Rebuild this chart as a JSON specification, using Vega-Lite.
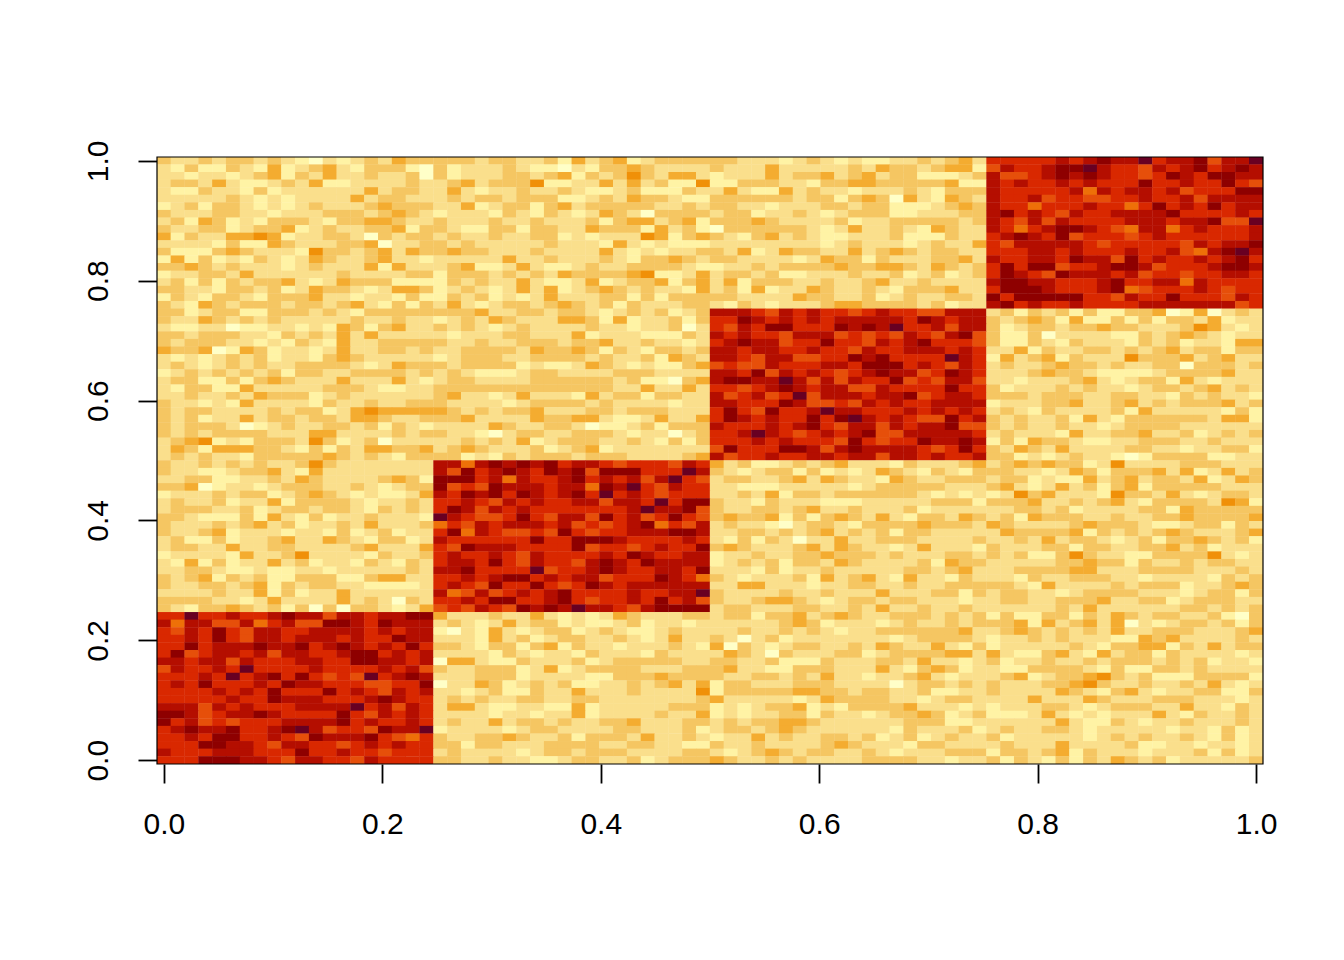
{"$schema":"https://vega.github.io/schema/vega-lite/v6.json","width":1106,"height":607,"autosize":"none","padding":{"left":157,"top":157,"right":81,"bottom":196},"background":"white","config":{"view":{"stroke":null},"axis":{"grid":false,"title":null,"domainColor":"black","domainWidth":1.5,"tickColor":"black","tickWidth":1.8,"tickSize":19,"labelColor":"black","labelFont":"Liberation Sans","labelFontSize":30}},
"layer":[{"data":{"values":[
{"y":79,"v":[4,3,3,4,3,4,4,3,4,3,2,1,3,2,3,4,3,5,4,4, 4,4,4,3,4,4,3,3,4,2,5,3,4,5,2,3,4,4,4,4, 4,4,3,3,3,2,3,4,3,2,3,2,2,3,3,4,3,4,5,3, 9,9,9,9,9,10,9,10,11,10,10,12,9,10,10,11,8,10,10,12]},
{"y":78,"v":[3,2,4,2,2,4,3,2,5,2,3,4,5,3,2,4,4,4,2,1, 4,2,3,3,3,4,3,2,2,1,3,2,4,4,5,4,3,3,3,3, 4,3,3,3,5,3,3,3,3,3,4,3,5,4,4,3,4,5,5,2, 8,10,9,9,10,11,11,12,10,9,9,8,10,9,10,11,9,10,11,10]},
{"y":77,"v":[3,3,2,3,3,2,3,4,5,2,4,3,5,3,3,4,3,3,4,1, 4,2,3,3,3,4,4,3,4,5,2,4,3,4,6,4,3,5,5,3, 2,3,3,3,5,3,4,4,5,3,4,5,3,4,4,2,2,2,3,4, 10,8,8,9,10,11,10,11,10,9,9,8,9,11,10,9,11,11,10,10]},
{"y":76,"v":[3,4,4,3,5,3,2,2,3,4,3,5,2,2,3,3,3,3,4,3, 3,4,5,3,4,4,4,6,2,2,3,3,5,3,5,3,4,2,2,6, 2,2,4,4,4,3,3,2,4,4,5,5,4,4,4,4,4,5,2,2, 10,9,10,9,9,10,9,10,9,9,9,11,9,9,10,9,9,11,9,8]},
{"y":75,"v":[3,2,2,4,3,3,2,4,2,3,3,3,3,3,3,5,3,4,4,3, 3,5,3,2,3,3,4,3,3,4,3,2,2,3,4,2,2,2,4,3, 3,5,3,2,2,5,3,4,3,3,2,3,3,3,4,3,2,4,4,4, 10,9,9,9,9,9,10,7,10,9,10,10,9,10,8,9,9,9,11,11]},
{"y":74,"v":[3,3,3,3,3,4,3,2,3,2,3,3,3,3,5,3,4,4,3,3, 3,4,3,4,4,3,4,4,4,2,2,3,4,3,5,4,4,3,2,2, 4,4,4,4,4,4,3,4,4,2,4,5,4,1,5,3,2,5,4,3, 10,9,9,10,8,9,9,8,8,9,9,10,9,9,10,8,10,10,10,10]},
{"y":73,"v":[2,3,4,2,4,4,3,2,3,2,3,4,3,3,3,4,5,4,4,4, 3,3,5,2,3,4,4,2,4,5,3,4,4,4,4,4,3,3,4,3, 4,4,3,3,2,3,3,3,4,4,3,4,4,2,2,2,3,4,5,4, 10,9,9,7,9,9,9,10,9,9,7,9,11,9,10,9,11,9,10,10]},
{"y":72,"v":[4,3,3,3,4,4,3,3,2,3,3,3,4,4,4,3,4,5,4,3, 2,3,3,3,2,4,3,2,4,3,2,3,5,4,3,1,4,4,4,4, 3,4,4,2,3,3,4,3,2,3,4,4,4,2,2,3,3,3,4,4, 10,11,9,10,9,8,10,9,9,10,10,10,10,11,9,9,9,9,10,9]},
{"y":71,"v":[3,4,2,5,4,2,3,2,4,4,4,3,2,4,4,5,5,4,3,3, 4,3,3,3,4,3,3,4,3,3,3,4,2,4,5,5,3,4,5,2, 4,4,4,5,4,3,3,3,3,4,2,3,3,4,4,4,4,4,3,4, 10,9,8,10,8,10,9,9,9,9,10,10,10,9,10,10,11,8,8,12]},
{"y":70,"v":[4,3,3,4,4,2,3,4,4,5,2,3,4,3,3,4,4,5,2,4, 4,3,2,2,4,4,2,4,4,3,3,5,4,4,4,2,5,3,4,2, 1,4,4,4,4,4,4,3,2,3,5,3,3,4,3,2,5,4,3,3, 10,9,7,9,10,11,11,10,9,8,7,10,10,7,9,10,9,9,9,10]},
{"y":69,"v":[5,2,4,3,3,5,5,6,5,2,3,3,4,4,3,1,4,3,4,4, 3,4,3,3,4,3,3,4,4,2,3,2,3,3,3,6,5,2,4,5, 4,3,2,4,5,3,4,3,2,2,3,3,3,4,2,2,2,4,3,3, 9,10,11,10,9,11,8,9,9,9,8,9,10,9,9,9,9,9,9,10]},
{"y":68,"v":[3,3,3,3,2,4,2,2,5,4,3,3,3,4,4,5,1,3,3,4, 4,3,4,3,3,3,3,3,4,3,3,3,2,5,3,2,3,2,2,2, 3,3,3,3,3,3,3,3,2,3,4,3,3,3,2,3,4,3,3,5, 9,8,10,10,10,10,10,9,8,9,9,9,9,9,8,10,9,10,10,11]},
{"y":67,"v":[4,2,2,2,4,5,4,3,3,3,2,6,4,4,3,4,5,3,5,4, 4,5,4,4,3,3,3,4,3,3,3,3,5,3,2,3,2,3,3,4, 4,3,5,2,3,5,4,4,3,3,5,3,4,5,4,3,4,4,3,3, 9,9,9,10,10,9,10,9,9,9,10,9,9,10,8,7,10,11,12,10]},
{"y":66,"v":[2,5,2,4,2,3,2,4,3,2,3,5,4,3,3,4,5,3,3,2, 3,3,3,3,3,5,3,3,4,3,3,3,4,3,2,4,4,5,4,3, 4,4,3,3,3,3,2,3,5,4,4,2,4,3,3,3,4,4,5,3, 10,9,9,10,10,9,11,10,10,8,11,9,10,9,9,10,9,10,11,9]},
{"y":65,"v":[4,4,5,4,3,4,3,3,3,2,3,4,3,3,3,5,2,5,3,3, 3,4,5,2,2,3,5,3,2,2,3,4,3,3,4,4,4,4,3,2, 2,3,3,4,3,4,4,4,4,5,4,4,5,5,4,3,5,4,3,4, 9,11,9,11,11,8,9,9,10,11,11,10,8,9,9,9,10,11,11,10]},
{"y":64,"v":[2,3,3,4,4,3,5,3,3,3,3,3,3,4,3,3,3,3,4,4, 2,4,4,4,3,4,3,4,3,5,4,4,4,4,5,6,2,2,3,5, 3,4,4,3,4,2,2,3,3,3,4,3,3,4,2,3,4,2,3,4, 9,11,10,9,8,11,10,10,10,9,10,8,9,9,8,9,9,10,10,9]},
{"y":63,"v":[3,4,2,4,2,4,3,4,4,5,3,2,3,5,4,4,4,2,2,2, 2,4,3,4,3,3,5,3,2,2,3,5,2,3,4,4,5,2,4,5, 3,5,2,4,4,4,3,3,4,3,3,4,5,3,3,4,3,3,3,3, 10,11,11,10,10,9,9,9,10,11,9,9,10,10,7,10,9,9,9,9]},
{"y":62,"v":[4,4,3,3,2,4,4,3,4,2,3,5,4,4,3,2,3,5,5,4, 2,3,4,3,2,3,5,3,5,2,3,4,5,4,3,4,3,3,2,5, 3,4,2,5,2,3,3,5,4,3,3,4,3,2,4,4,4,5,3,3, 9,11,11,11,10,9,9,9,10,11,7,8,9,9,9,10,9,8,9,9]},
{"y":61,"v":[2,4,3,2,4,4,3,2,4,4,4,5,3,3,2,3,3,2,4,2, 2,4,3,4,2,3,2,3,5,3,3,3,4,4,2,4,2,4,4,4, 4,4,3,3,3,3,5,4,4,3,3,4,2,3,4,3,3,4,4,3, 11,9,11,11,11,11,11,9,9,8,10,9,9,11,9,9,9,8,10,9]},
{"y":60,"v":[4,3,2,5,4,3,4,4,4,3,4,4,3,4,5,3,2,4,2,4, 3,5,3,2,3,4,4,3,4,5,4,3,4,2,4,3,3,3,4,4, 3,2,4,3,2,3,3,3,4,5,5,4,4,4,4,3,4,2,3,3, 10,11,9,10,9,9,10,9,9,9,9,10,10,10,10,10,10,10,8,9]},
{"y":59,"v":[4,4,2,3,4,4,2,2,4,4,4,3,4,3,2,4,4,4,4,4, 4,4,4,5,3,3,4,4,3,4,4,3,2,3,4,3,4,2,3,4, 10,10,10,9,8,10,9,10,9,9,8,9,10,9,9,8,8,10,10,10, 3,4,2,4,3,4,2,4,2,2,4,4,5,1,2,5,1,3,4,3]},
{"y":58,"v":[4,3,3,5,4,3,4,3,4,3,3,3,3,3,4,3,3,4,3,3, 2,3,4,3,5,4,3,3,3,5,5,4,2,5,2,3,3,4,2,4, 9,9,11,10,9,10,9,10,9,10,10,10,10,10,9,11,10,9,10,10, 4,3,4,5,4,2,5,2,2,4,2,4,2,4,4,3,5,2,3,3]},
{"y":57,"v":[3,2,2,3,3,1,2,2,3,3,2,3,2,5,4,2,4,5,3,3, 4,3,4,3,2,3,4,3,3,3,3,4,3,3,2,3,3,4,1,3, 9,8,10,9,11,11,9,9,9,11,10,11,10,12,9,9,10,8,10,10, 4,2,3,4,4,3,4,4,5,4,4,3,3,3,4,6,5,3,2,3]},
{"y":56,"v":[4,4,3,4,4,4,3,3,2,4,3,4,3,5,3,5,3,3,3,3, 3,2,3,3,3,4,4,3,3,3,5,2,3,3,3,2,2,2,4,3, 10,9,10,9,9,8,10,10,10,8,9,8,9,8,10,9,8,10,11,8, 4,2,2,4,1,3,3,3,3,2,2,4,3,4,5,4,3,2,3,3]},
{"y":55,"v":[4,3,4,4,4,3,3,2,3,2,4,3,2,5,3,3,4,4,4,4, 4,3,3,4,3,3,4,4,4,3,4,4,5,3,3,4,3,3,2,3, 9,10,11,10,10,8,9,9,11,9,9,8,10,9,10,11,9,9,9,8, 4,2,2,4,3,2,4,3,3,3,2,4,3,4,2,3,3,2,5,5]},
{"y":54,"v":[5,4,4,5,1,2,5,4,2,3,3,2,3,5,3,3,4,4,3,4, 3,3,4,4,4,4,3,5,4,4,5,4,2,4,3,2,4,4,3,4, 10,10,9,10,10,9,9,10,9,9,8,10,9,9,10,10,10,9,10,9, 3,3,5,2,4,3,3,4,4,3,4,3,4,5,3,4,4,2,4,4]},
{"y":53,"v":[3,2,3,2,3,4,3,4,2,3,3,2,4,5,4,3,3,3,3,3, 2,3,4,4,4,3,3,4,4,4,4,3,4,3,3,4,2,5,4,3, 10,10,9,8,10,10,8,8,9,9,11,10,11,9,9,9,9,12,10,9, 2,5,3,4,5,2,4,3,3,3,6,4,4,4,5,3,4,5,3,3]},
{"y":52,"v":[3,4,3,2,3,4,3,4,3,3,4,4,4,4,3,2,3,5,4,4, 4,3,4,4,4,4,2,3,2,2,3,5,4,3,2,3,2,2,4,5, 8,9,8,8,10,9,9,9,10,10,9,11,11,11,9,10,9,8,10,9, 3,4,3,3,4,5,4,4,3,4,3,3,4,4,1,4,4,4,3,4]},
{"y":51,"v":[2,3,4,3,4,3,4,3,4,2,4,4,3,3,4,4,4,4,3,4, 3,4,3,2,2,2,3,4,4,3,3,3,3,4,4,4,3,3,3,3, 10,10,9,11,8,10,9,10,9,8,9,10,11,10,10,8,9,11,10,9, 3,3,3,4,5,4,4,3,2,2,2,2,3,4,4,4,4,5,3,3]},
{"y":50,"v":[3,4,4,2,2,4,2,4,5,4,3,3,3,5,3,3,3,5,3,2, 3,4,4,3,3,3,3,4,4,4,4,4,4,3,4,2,2,1,4,5, 10,11,11,10,10,12,10,8,10,8,10,9,9,11,8,9,8,10,10,8, 3,3,2,3,3,3,4,5,3,2,3,4,4,2,5,3,2,3,3,3]},
{"y":49,"v":[3,2,4,4,2,2,5,3,3,3,3,3,4,4,4,3,2,2,3,3, 4,4,4,4,4,4,4,4,4,4,4,4,4,3,3,5,3,3,5,3, 9,9,8,9,10,11,10,9,10,10,8,8,10,9,9,9,9,11,9,9, 4,2,3,3,3,4,3,4,3,3,2,3,4,4,3,4,5,3,4,3]},
{"y":48,"v":[3,3,4,3,3,4,3,5,4,4,4,2,3,4,3,3,3,3,3,3, 4,5,3,3,2,3,5,3,3,3,2,5,3,4,4,2,4,4,3,3, 10,8,9,10,8,9,12,8,10,10,10,9,10,10,11,8,9,10,10,9, 4,4,4,3,4,4,4,3,3,4,4,3,3,2,4,3,4,3,3,2]},
{"y":47,"v":[4,3,3,2,3,2,5,3,3,3,3,2,4,3,3,4,3,3,4,4, 4,3,3,3,3,2,3,4,4,4,4,3,4,3,3,3,3,2,3,3, 10,10,9,9,9,11,10,8,8,9,8,10,9,10,9,9,10,10,10,10, 2,3,3,3,4,4,5,3,3,4,5,3,4,3,4,4,4,5,3,4]},
{"y":46,"v":[4,3,4,4,3,3,3,3,4,3,4,4,2,3,5,6,5,5,5,5, 5,4,3,4,3,4,4,5,3,3,3,4,4,3,4,4,4,3,3,3, 9,11,9,8,11,9,9,10,12,10,10,9,9,9,10,9,10,9,10,9, 3,4,3,2,4,3,3,3,3,4,2,5,3,3,3,3,3,2,4,2]},
{"y":45,"v":[4,3,4,2,3,3,5,3,4,4,3,4,4,3,5,5,4,3,3,4, 4,4,5,3,3,3,3,5,4,4,5,5,3,2,2,3,5,3,3,5, 9,11,10,9,10,9,9,11,9,11,12,10,9,10,9,8,8,11,9,10, 4,3,4,3,3,4,2,5,3,2,4,4,4,4,4,4,3,5,5,2]},
{"y":44,"v":[4,3,4,4,4,3,1,2,3,4,3,3,4,4,3,4,2,4,3,2, 3,3,3,3,5,4,3,3,4,4,3,1,2,2,3,4,2,4,4,4, 10,9,9,9,10,9,10,11,9,8,10,10,8,10,9,10,10,11,8,8, 4,3,4,3,3,4,3,3,2,3,4,4,4,4,3,3,3,3,3,3]},
{"y":43,"v":[4,3,4,3,4,4,4,4,3,3,3,5,5,3,3,3,3,4,3,4, 4,3,3,2,1,3,4,4,3,3,4,4,4,3,2,3,3,1,3,4, 9,9,10,12,10,9,8,9,10,9,10,11,8,8,10,10,10,10,10,9, 3,4,3,3,3,2,5,3,3,4,4,5,3,3,4,2,3,4,3,4]},
{"y":42,"v":[3,4,5,6,2,3,2,4,4,4,3,6,4,2,3,4,1,3,3,3, 3,3,4,3,4,3,5,2,3,4,4,4,3,3,4,3,2,4,2,4, 9,9,9,10,9,10,9,9,9,8,11,9,8,9,9,11,10,10,11,10, 2,4,2,5,4,4,3,2,2,3,3,4,4,4,3,3,4,3,3,3]},
{"y":41,"v":[3,5,4,2,5,5,5,4,4,3,2,4,2,4,3,5,5,4,4,5, 3,4,5,4,3,3,3,4,2,3,4,5,2,3,3,3,3,3,3,3, 8,11,9,9,9,11,11,10,8,10,11,10,10,10,10,9,8,9,11,9, 4,3,5,4,3,5,3,3,3,3,4,4,3,3,2,3,3,4,4,2]},
{"y":40,"v":[3,4,3,4,3,3,2,4,4,4,4,4,5,4,3,4,3,2,4,4, 4,4,2,3,2,4,3,4,4,4,3,4,4,4,3,3,3,3,4,5, 10,8,9,9,10,9,9,10,10,9,10,10,8,10,10,9,10,9,9,10, 4,4,2,3,2,3,4,3,3,2,1,2,4,4,4,4,2,2,3,3]},
{"y":39,"v":[4,3,3,4,3,4,3,4,3,3,4,6,4,3,3,3,3,3,3,3, 10,10,7,10,11,10,11,10,11,9,10,10,9,8,9,9,9,8,10,9, 5,3,4,2,2,3,4,3,4,5,3,3,3,2,4,3,3,3,4,5, 3,4,5,4,5,4,4,2,3,6,3,3,3,3,4,4,4,3,3,3]},
{"y":38,"v":[4,3,3,2,2,3,4,4,5,3,2,5,3,3,3,3,3,3,3,3, 10,8,11,9,10,11,10,9,11,10,11,8,11,11,11,9,9,9,12,10, 4,3,2,3,4,4,2,4,2,3,2,3,5,4,3,2,4,3,2,4, 4,4,3,3,2,3,5,4,2,4,4,4,5,3,5,2,3,5,3,4]},
{"y":37,"v":[3,3,4,4,2,2,3,3,4,3,5,4,3,3,3,3,4,5,4,2, 11,11,11,9,10,7,10,9,9,10,11,9,10,9,10,8,10,12,9,8, 3,4,4,3,3,4,5,3,5,4,3,3,2,5,4,3,3,4,4,4, 3,4,4,2,3,2,2,5,3,4,5,3,4,4,3,5,2,3,5,4]},
{"y":36,"v":[4,4,5,1,2,3,3,2,3,4,4,4,3,3,4,3,2,3,4,4, 11,8,9,8,11,10,10,10,9,10,10,7,11,10,12,9,8,10,9,9, 3,3,2,2,2,3,3,3,3,3,2,3,4,4,4,4,4,3,3,3, 4,5,3,2,3,5,3,4,2,4,5,2,4,4,4,4,4,3,3,3]},
{"y":35,"v":[2,3,3,3,4,3,4,4,2,3,4,5,4,3,2,3,2,2,3,5, 10,9,11,10,11,9,11,10,9,10,11,9,12,9,10,9,8,9,9,9, 3,3,4,3,5,2,4,4,3,4,4,4,4,4,4,3,2,3,2,3, 2,3,6,4,5,3,3,3,2,6,4,4,3,5,3,2,3,4,4,3]},
{"y":34,"v":[3,4,3,3,4,2,3,3,5,2,4,4,4,4,3,2,3,3,4,3, 9,9,10,9,8,10,9,10,9,9,10,10,8,10,10,9,12,9,11,11, 4,3,3,2,4,3,3,3,2,2,2,3,3,3,3,3,4,4,4,2, 4,4,4,5,3,3,4,3,4,5,3,2,4,4,4,4,3,6,5,2]},
{"y":33,"v":[3,4,4,4,3,3,4,2,3,4,4,3,4,4,3,2,4,3,4,3, 9,11,10,8,10,9,10,9,9,9,9,9,9,9,10,12,10,10,11,8, 4,3,3,4,4,3,4,5,3,3,4,3,3,3,4,2,3,3,3,3, 3,3,4,4,3,4,2,3,3,3,3,4,4,2,5,4,4,4,4,4]},
{"y":32,"v":[4,4,3,2,2,2,4,2,5,3,2,4,2,3,3,4,3,3,3,2, 12,10,9,8,8,9,11,9,8,10,10,8,11,9,10,8,9,11,9,8, 4,5,4,4,5,2,4,2,4,5,4,3,5,3,2,4,4,3,5,4, 3,4,2,5,4,4,4,3,3,4,3,3,4,4,5,4,4,4,4,5]},
{"y":31,"v":[4,3,3,3,4,3,4,5,3,4,2,3,3,4,3,5,3,3,3,4, 7,9,8,10,9,10,10,10,9,10,8,9,8,9,10,11,7,9,8,10, 3,4,3,3,2,1,3,4,4,3,2,4,4,4,4,5,4,4,4,3, 5,4,3,3,3,3,4,5,4,4,4,3,2,2,3,4,4,2,4,3]},
{"y":30,"v":[4,3,3,4,5,2,3,3,3,2,3,3,2,4,2,3,4,2,3,3, 9,11,7,10,9,8,8,9,8,11,9,8,9,9,10,10,10,11,11,10, 3,3,4,4,3,4,3,4,5,3,4,3,4,2,4,4,3,3,3,3, 3,5,4,4,4,4,5,2,4,3,4,3,4,5,4,3,3,3,4,5]},
{"y":29,"v":[3,4,2,2,4,2,3,3,4,5,3,3,5,4,3,2,4,4,2,3, 10,9,9,9,9,9,9,11,9,9,11,11,11,10,9,9,9,9,10,9, 3,2,4,2,4,3,1,3,3,5,3,3,4,4,4,3,3,3,3,4, 3,3,4,3,5,3,4,4,3,2,3,4,2,4,4,5,4,3,4,2]},
{"y":28,"v":[3,4,4,3,3,5,3,3,4,4,3,3,3,3,4,5,3,3,3,5, 9,8,11,10,10,10,9,9,9,9,11,8,9,9,8,9,10,9,9,11, 4,5,4,3,3,3,4,5,3,5,4,3,3,2,3,5,3,3,3,2, 4,3,3,3,4,4,2,4,4,3,3,4,4,5,3,4,2,3,3,3]},
{"y":27,"v":[2,3,3,3,3,2,5,3,3,4,6,3,3,3,3,2,4,3,3,4, 9,10,9,9,10,9,8,10,9,9,9,9,10,9,11,10,9,9,10,10, 2,3,3,4,3,3,4,4,5,4,4,4,3,4,3,3,3,4,4,3, 4,3,4,2,2,4,6,4,3,3,2,2,4,4,4,4,6,3,2,3]},
{"y":26,"v":[3,2,5,2,4,2,3,3,5,3,4,2,3,3,2,4,3,2,4,3, 9,10,10,9,11,9,8,10,9,9,8,10,11,10,9,11,10,10,10,10, 2,3,4,3,4,2,4,4,3,5,4,3,3,3,3,4,2,5,4,4, 3,3,3,3,3,4,4,5,4,4,2,4,3,3,4,3,4,4,3,3]},
{"y":25,"v":[3,3,4,4,3,2,2,3,2,2,3,3,2,3,3,3,3,3,4,3, 10,10,11,9,9,9,9,12,8,9,9,10,11,10,9,9,10,10,9,11, 3,3,3,2,4,2,3,3,4,3,3,3,3,3,4,4,3,4,5,3, 3,3,4,4,4,4,5,5,3,3,3,4,4,4,4,3,3,3,4,3]},
{"y":24,"v":[4,3,4,5,2,4,3,4,2,2,4,4,4,2,2,4,5,5,3,3, 9,9,10,9,10,11,11,9,10,9,10,10,8,9,9,9,11,10,9,7, 4,3,2,3,3,3,4,2,5,3,4,5,3,2,5,3,3,2,4,3, 3,3,2,4,3,3,4,4,4,3,3,2,3,3,3,3,2,4,3,4]},
{"y":23,"v":[4,3,3,4,4,3,4,5,2,4,3,4,4,3,3,2,2,2,2,3, 9,10,9,8,11,9,9,11,9,8,9,11,10,9,10,10,10,10,10,10, 3,3,5,5,3,3,3,2,3,3,4,4,3,3,4,3,3,4,4,4, 4,4,3,2,5,3,3,3,3,4,3,4,4,4,2,3,3,4,5,4]},
{"y":22,"v":[3,3,3,3,4,3,3,5,2,4,2,3,3,5,3,3,3,3,3,3, 10,7,8,10,8,9,10,9,10,11,9,9,9,9,10,9,9,10,10,12, 4,3,3,3,3,4,3,3,4,3,3,3,5,3,3,3,4,4,2,4, 3,4,4,3,3,2,3,4,4,4,4,3,3,3,2,3,4,4,2,4]},
{"y":21,"v":[4,4,4,4,3,3,2,3,5,3,3,3,3,5,3,4,3,1,4,3, 9,9,10,9,11,11,9,9,10,11,9,8,9,9,10,9,11,9,10,8, 4,3,3,4,5,5,4,3,2,3,4,4,3,4,4,3,3,3,2,3, 3,4,4,3,3,4,4,4,5,3,3,4,4,2,3,4,4,4,3,3]},
{"y":20,"v":[4,3,2,4,4,5,4,3,4,2,4,1,4,1,4,4,3,2,3,5, 8,9,8,10,9,8,11,10,11,10,12,10,10,9,8,10,11,11,11,11, 3,4,4,3,3,3,4,4,3,3,4,3,5,3,3,4,3,3,4,3, 3,3,3,3,3,4,3,5,3,3,3,3,3,3,4,4,3,4,3,4]},
{"y":19,"v":[9,9,12,9,9,10,9,9,10,11,10,10,8,10,10,9,10,10,11,11, 5,3,3,3,4,3,3,5,3,2,3,2,3,5,4,3,3,3,4,4, 3,4,4,2,4,4,5,3,4,5,4,3,3,4,4,4,3,4,3,4, 2,4,2,2,4,4,2,4,3,5,4,3,4,4,3,3,4,2,1,4]},
{"y":18,"v":[10,7,10,10,8,8,10,7,9,10,8,8,11,11,10,9,11,10,10,10, 3,4,3,2,3,5,3,4,4,2,3,2,2,3,4,2,3,3,2,3, 3,3,3,3,3,4,5,4,2,3,3,3,2,3,4,3,3,4,3,4, 4,4,5,2,5,3,4,5,3,5,1,3,2,3,4,4,3,4,2,4]},
{"y":17,"v":[9,8,10,9,11,9,8,10,10,9,9,10,10,10,10,9,10,9,10,10, 2,1,3,2,5,3,2,3,4,4,2,3,4,3,2,2,3,4,3,3, 3,3,4,3,3,4,3,4,3,2,3,3,4,4,4,4,4,4,5,3, 3,4,5,4,3,4,3,4,3,5,3,3,4,4,4,3,3,3,4,5]},
{"y":16,"v":[9,9,10,9,11,9,8,10,10,9,10,10,10,9,10,9,9,11,10,10, 3,3,3,2,5,3,4,2,3,4,4,3,3,4,3,2,3,5,3,3, 4,3,1,3,4,2,3,3,3,3,3,3,3,2,3,4,4,4,4,3, 2,3,3,4,3,4,3,3,3,2,2,5,4,5,3,3,3,3,4,3]},
{"y":15,"v":[9,9,11,9,10,10,10,11,10,10,11,9,10,11,10,9,10,9,11,9, 4,4,3,2,4,4,2,4,5,2,4,3,3,2,3,3,3,4,3,2, 5,1,4,3,2,3,4,4,3,3,4,3,5,4,3,3,5,3,2,4, 2,3,3,3,3,3,4,3,2,4,4,5,5,2,4,3,5,3,4,4]},
{"y":14,"v":[9,11,8,9,10,10,9,10,8,10,10,9,9,10,11,11,9,10,9,10, 3,3,3,3,2,4,3,2,3,3,2,4,3,3,3,2,4,3,3,3, 3,5,4,3,1,4,3,3,3,4,4,2,3,4,4,4,4,5,5,3, 5,3,2,2,4,5,3,2,5,3,4,4,2,4,3,3,3,3,2,3]},
{"y":13,"v":[10,10,9,10,10,8,10,9,9,9,10,10,9,9,11,11,10,10,9,10, 1,5,5,3,2,2,4,3,3,3,4,2,3,4,4,4,4,4,3,3, 4,4,3,3,4,2,2,2,4,3,3,3,4,4,3,5,3,3,2,3, 4,2,3,3,4,3,3,4,3,4,4,4,3,4,3,4,2,3,3,2]},
{"y":12,"v":[8,10,9,9,10,9,12,9,9,9,9,10,9,9,9,9,10,9,10,8, 4,3,3,4,4,4,2,3,5,2,3,4,4,4,4,3,3,3,4,4, 4,5,3,3,2,2,4,4,4,3,3,3,5,3,2,4,5,4,2,3, 3,2,2,4,4,4,4,3,2,4,2,2,4,4,3,4,3,3,3,3]},
{"y":11,"v":[9,9,9,10,9,12,9,10,11,9,11,9,8,9,8,12,9,10,11,10, 3,3,3,4,4,4,2,3,3,3,3,2,2,4,4,4,5,4,4,4, 4,3,3,4,4,3,4,3,5,3,3,2,3,3,4,5,3,2,3,3, 3,4,5,2,3,4,4,5,6,4,3,4,2,2,2,4,4,4,4,2]},
{"y":10,"v":[9,10,9,11,9,9,9,10,9,11,10,10,9,9,9,8,8,9,9,11, 1,3,3,5,4,2,3,4,3,4,2,2,3,3,4,3,4,5,3,5, 2,4,4,3,3,3,4,4,4,3,3,3,3,1,3,4,4,3,4,3, 4,3,3,3,4,4,5,6,4,3,3,4,3,3,4,3,5,3,2,3]},
{"y":9,"v":[9,9,9,9,10,9,10,9,11,9,9,9,11,9,10,9,8,10,9,10, 3,3,2,3,4,2,2,4,3,3,5,3,3,3,4,3,3,3,3,6, 2,4,4,4,4,4,5,5,4,4,3,4,4,3,3,4,2,2,3,3, 4,3,3,3,3,5,4,3,2,4,5,3,2,3,3,4,4,2,2,4]},
{"y":8,"v":[9,9,9,9,9,10,9,9,11,10,10,10,9,9,9,10,11,10,9,9, 3,4,3,4,3,3,4,4,3,3,4,4,3,3,3,3,3,3,3,4, 5,3,3,3,3,3,2,3,5,4,4,4,4,3,3,2,3,4,4,3, 3,3,3,5,3,3,3,5,4,3,3,3,4,4,4,3,3,3,2,3]},
{"y":7,"v":[10,10,10,8,10,9,10,9,9,9,10,10,10,10,12,9,10,8,10,9, 3,5,5,3,2,2,3,3,2,2,5,2,3,3,3,3,3,4,4,4, 2,3,2,3,4,4,5,2,3,2,4,4,4,4,5,3,3,3,2,3, 2,3,3,3,4,4,3,2,3,4,4,4,3,3,5,3,3,2,4,3]},
{"y":6,"v":[11,11,10,8,9,10,10,11,10,9,9,9,9,11,9,8,10,9,10,9, 3,3,3,3,2,3,3,2,3,3,5,2,3,3,3,3,4,3,3,5, 2,3,2,3,3,4,4,2,4,3,3,2,3,4,4,5,4,2,3,4, 2,2,2,3,5,3,2,3,2,3,3,3,5,3,2,4,3,3,4,3]},
{"y":5,"v":[11,9,10,8,9,8,9,9,9,10,10,10,10,11,9,10,9,9,10,9, 3,4,3,3,5,3,4,4,3,4,3,3,4,4,5,3,3,3,4,4, 3,4,3,4,4,5,5,4,3,3,3,3,3,3,4,4,4,2,2,3, 3,3,3,3,3,5,3,2,2,4,3,2,3,3,4,3,3,3,4,3]},
{"y":4,"v":[9,10,11,10,10,11,9,9,10,11,12,10,8,9,9,8,11,10,10,12, 2,3,3,3,3,2,3,4,4,3,3,3,3,4,4,3,3,3,4,2, 3,4,4,3,4,5,4,3,3,3,3,3,3,2,4,3,3,3,4,2, 3,4,3,3,4,4,3,2,3,3,3,3,3,2,3,3,2,4,2,3]},
{"y":3,"v":[9,9,10,9,11,11,9,9,10,9,8,11,10,10,10,11,9,8,7,9, 4,3,3,4,4,5,4,3,3,4,2,4,4,4,3,5,3,3,4,3, 2,3,3,5,3,4,3,3,4,4,3,4,2,3,4,2,3,4,3,3, 4,2,3,3,3,3,3,2,3,4,3,4,3,3,4,3,2,4,2,3]},
{"y":2,"v":[9,9,9,11,11,10,10,9,8,10,10,9,9,8,9,10,9,10,9,9, 4,4,2,4,4,3,3,3,4,4,4,4,3,3,4,4,3,3,2,2, 4,3,3,4,3,3,3,3,4,5,4,3,3,3,2,4,4,3,3,3, 3,4,3,3,3,5,3,3,3,3,4,2,2,3,3,2,3,3,2,3]},
{"y":1,"v":[10,9,9,9,10,10,10,9,9,9,11,9,9,10,9,9,8,9,9,9, 3,4,3,3,3,3,2,3,4,4,3,4,4,4,3,3,3,3,4,4, 3,2,3,4,5,4,3,4,4,3,3,4,3,2,3,3,3,4,4,4, 2,4,4,3,4,5,2,4,3,3,3,2,3,3,3,4,2,4,2,3]},
{"y":0,"v":[9,9,9,11,11,11,10,10,9,8,10,10,9,9,8,10,9,9,9,9, 4,4,3,3,4,3,3,2,2,3,4,4,3,3,4,2,3,4,4,4, 5,4,3,3,4,3,4,3,3,3,3,4,4,4,4,3,3,2,3,3, 4,2,4,3,2,4,2,4,3,5,4,3,4,2,3,3,3,3,3,4]}
]},
"transform":[{"flatten":["v"]},{"window":[{"op":"row_number","as":"i"}],"groupby":["y"]}],
"mark":{"type":"rect","width":14.2,"height":8,"strokeWidth":0,"clip":true},
"encoding":{
"x":{"field":"i","type":"quantitative","scale":{"domain":[0.5,80.5],"nice":false,"zero":false},"axis":{"values":[1,16.8,32.6,48.4,64.2,80],"domain":false,"labelExpr":"format((datum.value-1)/79,'.1f')","labelPadding":26}},
"y":{"field":"y","type":"quantitative","scale":{"domain":[-0.5,79.5],"nice":false,"zero":false},"axis":{"values":[0,15.8,31.6,47.4,63.2,79],"domain":false,"labelExpr":"format(datum.value/79,'.1f')","labelAngle":-90,"labelAlign":"center","labelBaseline":"bottom","labelPadding":25}},
"color":{"field":"v","type":"ordinal","legend":null,"scale":{"domain":[1,2,3,4,5,6,7,8,9,10,11,12],"range":["#FFFFC8","#FFF3A5","#FADF8C","#F5C662","#F4AC30","#F09008","#EE7008","#E64F0A","#D92800","#B40E00","#8E0000","#680022"]}}}},
{"data":{"values":[{"a":0.5,"b":80.5,"c":-0.5,"d":79.5}]},
"mark":{"type":"rect","fill":null,"stroke":"black","strokeWidth":1.2},
"encoding":{"x":{"field":"a","type":"quantitative"},"x2":{"field":"b"},"y":{"field":"c","type":"quantitative"},"y2":{"field":"d"}}}]}
